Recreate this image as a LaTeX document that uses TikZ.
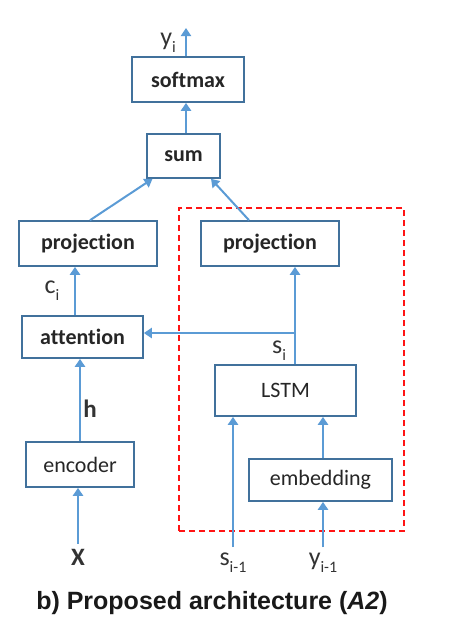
\documentclass[tikz,border=0pt]{standalone}
\usepackage{fontspec}
\setmainfont{Carlito}[RawFeature={-liga}]
\newfontfamily\capfont{Liberation Sans}
\usetikzlibrary{arrows.meta,positioning}
\definecolor{boxblue}{RGB}{65,113,156}
\definecolor{arrowblue}{RGB}{91,155,213}
\definecolor{dashred}{RGB}{255,20,20}

\newcommand{\lowsub}[1]{\raisebox{-0.3em}{\fontsize{16}{18}\selectfont #1}}

\tikzset{
  block/.style={draw=boxblue,line width=1.6pt,fill=white,inner sep=0pt,text=black!85,
    font=\fontsize{22}{26}\selectfont\bfseries},
  plainblock/.style={block,font=\fontsize{22}{26}\selectfont},
  flow/.style={draw=arrowblue,line width=2pt,-{Triangle[width=10pt,length=8pt]}},
  sym/.style={inner sep=5pt,anchor=base,text=black!80,font=\fontsize{26}{30}\selectfont},
}

\begin{document}
\begin{tikzpicture}[x=1pt,y=-1pt]
  \useasboundingbox (0,0) rectangle (466,641);

  % decoder part
  \node[draw=dashred,line width=1.8pt,dash pattern=on 6pt off 4pt,minimum width=225pt,minimum height=323pt] (dec) at (291.5,369.5) {};

  \node[block,minimum width=112pt,minimum height=45pt] (softmax) at (188,79.5) {softmax};
  \node[block,minimum width=73pt,minimum height=44pt]  (sum)     at (183.5,156) {sum};
  \node[block,minimum width=138pt,minimum height=45pt] (projL)   at (88,243.5) {projection};
  \node[block,minimum width=138pt,minimum height=45pt] (projR)   at (270,243.5) {projection};
  \node[block,minimum width=121pt,minimum height=42pt] (attention) at (82.5,337) {attention};
  \node[plainblock,minimum width=141pt,minimum height=51pt] (lstm) at (285.5,390.5) {LSTM};
  \node[plainblock,minimum width=108pt,minimum height=45pt] (encoder) at (80,464.5) {encoder};
  \node[plainblock,minimum width=143pt,minimum height=42pt] (embed) at (320.5,480) {embedding};

  \node[sym] (yi)    at (168,45)  {y\lowsub{i}};
  \node[sym] (ci)    at (52,293)  {c\lowsub{i}};
  \node[sym] (si)    at (279,353) {s\lowsub{i}};
  \node[sym,font=\fontsize{25}{30}\selectfont\bfseries] (h) at (90,417) {h};
  \node[sym,font=\fontsize{25}{30}\selectfont\bfseries] (X) at (78,565) {X};
  \node[sym] (sprev) at (233,565) {s\lowsub{i-1}};
  \node[sym] (yprev) at (323,565) {y\lowsub{i-1}};

  \coordinate (yout) at (186,28);
  \coordinate (split) at (295,333);

  \draw[flow] (softmax.north -| yout) -- (yout);
  \draw[flow] (sum.north -| yout) -- (softmax.south -| yout);
  \draw[flow] ([xshift=2pt]projL.north) -- ([xshift=-31pt]sum.south);
  \draw[flow] ([xshift=-21pt]projR.north) -- ([xshift=27.5pt]sum.south);
  \draw[flow] ([xshift=-7.5pt]attention.north) -- ([xshift=-13pt]projL.south);
  \draw[flow] (lstm.north -| split) -- (projR.south -| split);
  \draw[flow] (split) -- (attention.east |- split);
  \draw[flow] (encoder.north) -- (attention.south -| encoder.north);
  \draw[flow] (X.north) -- (encoder.south -| X.north);
  \draw[flow] (sprev.north) -- (lstm.south -| sprev.north);
  \draw[flow] (yprev.north) -- (embed.south -| yprev.north);
  \draw[flow] (embed.north -| yprev.north) -- (lstm.south -| yprev.north);

  \node[font=\capfont\fontsize{25}{30}\selectfont\bfseries,text=black!90] (caption) at (212,603) {b) Proposed architecture (\textit{A2})};
\end{tikzpicture}
\end{document}
